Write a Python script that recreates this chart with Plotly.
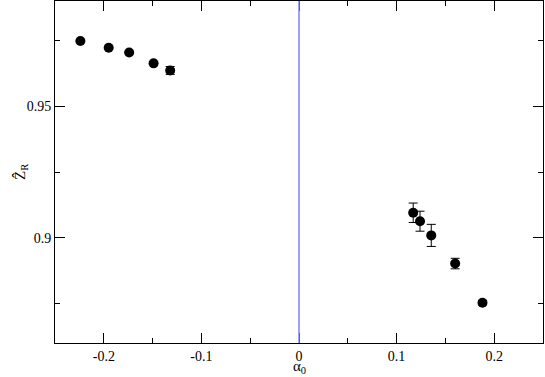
import plotly.graph_objects as go

# left branch (negative alpha_0)
alpha_neg = [-0.224, -0.195, -0.174, -0.149, -0.132]
z_neg = [0.9748, 0.9722, 0.9704, 0.9663, 0.9636]
err_neg = [0.0, 0.0, 0.0, 0.0, 0.0015]

# right branch (positive alpha_0)
alpha_pos = [0.117, 0.124, 0.1355, 0.160, 0.188]
z_pos = [0.9095, 0.9063, 0.9009, 0.8902, 0.8753]
err_pos = [0.0037, 0.0038, 0.0042, 0.002, 0.0008]

x_ticks = [-0.2, -0.1, 0, 0.1, 0.2]
x_labels = ["-0.2", "-0.1", "0", "0.1", "0.2"]
y_ticks = [0.9, 0.95]
y_labels = ["0.9", "0.95"]

alpha = alpha_neg + alpha_pos
z = z_neg + z_pos
err = err_neg + err_pos

serif = '"Liberation Serif", "Times New Roman", Times, serif'

fig = go.Figure()

fig.add_trace(go.Scatter(
    x=alpha, y=z, mode="markers",
    marker=dict(color="black", size=10),
    error_y=dict(type="data", array=err, color="black", thickness=1, width=4.5),
    showlegend=False,
))

# vertical line at alpha_0 = 0
fig.add_vline(x=0, line=dict(color="#7f7fff", width=1.5))

axis_common = dict(
    showgrid=False, zeroline=False, automargin=False,
    showline=True, linecolor="black", linewidth=1,
    ticks="inside", ticklen=10, tickcolor="black", tickwidth=1,
    mirror="allticks",
    tickfont=dict(family=serif, size=14, color="black"),
)

fig.update_xaxes(
    range=[-0.25, 0.25], tickvals=x_ticks, ticktext=x_labels,
    minor=dict(dtick=0.05, tick0=0, ticks="inside", ticklen=5, tickcolor="black"),
    **axis_common,
)
fig.update_yaxes(
    range=[0.86, 0.99], tickvals=y_ticks, ticktext=y_labels,
    minor=dict(dtick=0.025, tick0=0.875, ticks="inside", ticklen=5, tickcolor="black"),
    **axis_common,
)

# axis titles placed as annotations
fig.add_annotation(
    text="α<sub>0</sub>", xref="paper", yref="paper", x=0.5, y=0,
    yshift=-13, yanchor="top", showarrow=False,
    font=dict(family=serif, size=15, color="black"),
)
fig.add_annotation(
    text="Z\u0302<sub>R</sub>", xref="paper", yref="paper", x=0, y=0.5,
    xshift=-34, xanchor="center", textangle=-90, showarrow=False,
    font=dict(family=serif, size=15, color="black"),
)

fig.update_layout(
    width=545, height=377,
    margin=dict(l=55, r=2, t=1, b=34),
    plot_bgcolor="white", paper_bgcolor="white",
)

fig.write_html("out.html", config={"displayModeBar": False},
               post_script="document.body.style.margin='0';")
